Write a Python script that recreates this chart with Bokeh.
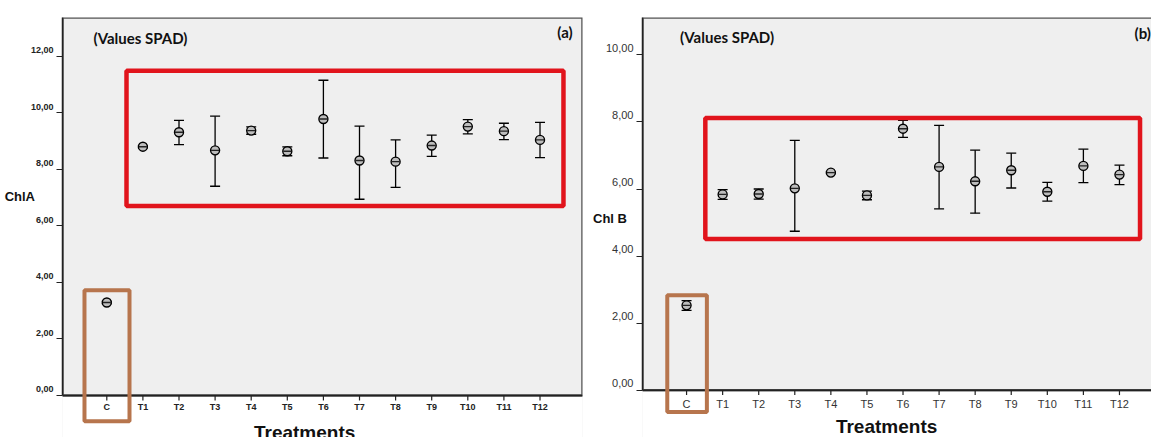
from bokeh.plotting import figure
from bokeh.models import (Range1d, FixedTicker, Whisker, TeeHead, BoxAnnotation,
                          Label, ColumnDataSource)
from bokeh.core.properties import value
from bokeh.layouts import row
from bokeh.embed import file_html
from bokeh.resources import INLINE

# ---------------- data ----------------
categories = ["C", "T1", "T2", "T3", "T4", "T5", "T6", "T7", "T8", "T9", "T10", "T11", "T12"]

chla_mean  = [3.29, 8.80, 9.31, 8.67, 9.37, 8.64, 9.78, 8.31, 8.27, 8.84, 9.51, 9.35, 9.04]
chla_upper = [3.33, 8.84, 9.73, 9.88, 9.50, 8.79, 11.15, 9.53, 9.04, 9.21, 9.76, 9.63, 9.66]
chla_lower = [3.25, 8.76, 8.87, 7.40, 9.24, 8.48, 8.40, 6.94, 7.36, 8.46, 9.25, 9.05, 8.41]

chlb_mean  = [2.53, 5.84, 5.85, 6.02, 6.49, 5.81, 7.80, 6.66, 6.23, 6.56, 5.92, 6.69, 6.43]
chlb_upper = [2.67, 5.98, 6.00, 7.45, 6.52, 5.94, 8.05, 7.90, 7.16, 7.07, 6.20, 7.19, 6.71]
chlb_lower = [2.38, 5.69, 5.70, 4.74, 6.46, 5.68, 7.54, 5.41, 5.28, 6.03, 5.64, 6.19, 6.13]

chla_ticks = [0, 2, 4, 6, 8, 10, 12]
chlb_ticks = [0, 2, 4, 6, 8, 10]

RED = "#e1141c"
BROWN = "#b7754d"
BG = "#efefef"
H = 437


def panel(mean, upper, lower, yticks, width, borders, xr, yr, tick_size, tick_style,
          tick_color, xlab_offset, ylab, ylab_standoff, ylab_lines, ylab_lh, right_line):
    xs = list(range(len(categories)))
    src = ColumnDataSource(dict(x=xs, mean=mean, upper=upper, lower=lower,
                                zero=[0] * len(xs), label=categories))
    bl, br, bt = borders
    p = figure(width=width, height=H, output_backend="svg", toolbar_location=None,
               x_range=Range1d(*xr), y_range=Range1d(*yr), x_axis_location=None,
               min_border_left=bl, min_border_right=br, min_border_top=bt, min_border_bottom=0)
    p.background_fill_color = BG
    p.border_fill_color = "white"
    p.outline_line_color = None
    p.grid.visible = False
    ppu_y = (H - bt) / (yr[1] - yr[0])

    # white area under the category axis
    p.add_layout(BoxAnnotation(top=0, fill_color="white", fill_alpha=1, line_alpha=0,
                               level="underlay"))
    # frame top / right edge
    p.add_layout(BoxAnnotation(bottom=0, right=(None if right_line else xr[1] + 1),
                               fill_alpha=0, line_color="#555555", line_alpha=1,
                               line_width=2.5, level="underlay"))

    # y axis
    ax = p.yaxis[0]
    ax.ticker = FixedTicker(ticks=yticks, minor_ticks=[])
    ax.major_label_overrides = {t: f"{t},00\n" for t in yticks}
    ax.bounds = (0, yr[1])
    ax.axis_line_color = "#222222"
    ax.axis_line_width = 1.5
    ax.major_tick_line_color = "#222222"
    ax.major_tick_line_width = 1.2
    ax.major_tick_out = 6
    ax.major_tick_in = 0
    ax.minor_tick_out = 0
    ax.major_label_text_font = "Liberation Sans"
    ax.major_label_text_font_size = tick_size
    ax.major_label_text_font_style = tick_style
    ax.major_label_text_color = tick_color
    ax.major_label_standoff = 3
    ax.axis_label = ylab + "\n" * ylab_lines
    ax.axis_label_orientation = "horizontal"
    ax.axis_label_standoff = ylab_standoff
    ax.axis_label_text_font = "Liberation Sans"
    ax.axis_label_text_font_style = "bold"
    ax.axis_label_text_font_size = "13px"
    ax.axis_label_text_line_height = ylab_lh
    ax.axis_label_text_color = "#111111"

    # category axis at y = 0
    p.segment(x0=xr[0], y0=0, x1=xr[1], y1=0, line_color="#222222", line_width=1.5)
    p.segment(x0="x", y0="zero", x1="x", y1=-5 / ppu_y, source=src,
              line_color="#222222", line_width=1.2)
    p.text(x="x", y="zero", text="label", source=src, y_offset=xlab_offset,
           text_align="center", text_baseline="top", text_font=value("Liberation Sans"),
           text_font_size=tick_size, text_font_style=tick_style, text_color=tick_color)

    whisk = Whisker(source=src, base="x", upper="upper", lower="lower",
                    line_color="black", line_width=1.3,
                    upper_head=TeeHead(size=10, line_color="black", line_width=1.3),
                    lower_head=TeeHead(size=10, line_color="black", line_width=1.3))
    p.add_layout(whisk)
    p.scatter("x", "mean", source=src, marker="circle", size=9,
              fill_color="#bdbdbd", line_color="black", line_width=1.4)
    p.scatter("x", "mean", source=src, marker="dash", size=8,
              line_color="#222222", line_width=1.4)
    return p


def txt(p, x, y, s, font, size, align="left", baseline="middle"):
    p.add_layout(Label(x=x, y=y, text=s, text_font=font, text_font_style="bold",
                       text_font_size=size, text_align=align, text_baseline=baseline,
                       text_color="#111111"))


# ---------------- left panel (a) ----------------
pa = panel(chla_mean, chla_upper, chla_lower, chla_ticks, 590, (62, 8, 17),
           (-1.227, 13.177), (-1.487, 13.37), "9px", "bold", "#222222", 7,
           "ChlA", -7, 4, 1.05, True)
pa.add_layout(BoxAnnotation(left=0.546, right=12.65, bottom=6.70, top=11.49,
                            fill_alpha=0, line_color=RED, line_alpha=1, line_width=4.5))
pa.add_layout(BoxAnnotation(left=-0.618, right=0.629, bottom=-0.909, top=3.725,
                            fill_alpha=0, line_color=BROWN, line_alpha=1, line_width=4))
txt(pa, -0.37, 12.64, "(Values SPAD)", "Lato", "15px")
txt(pa, 12.48, 12.85, "(a)", "Lato", "15px")
txt(pa, 5.48, -1.32, "Treatments", "Liberation Sans", "19px", "center", "alphabetic")

# ---------------- right panel (b) ----------------
pb = panel(chlb_mean, chlb_upper, chlb_lower, chlb_ticks, 561, (47, 0, 14),
           (-1.2215, 12.888), (-1.413, 11.117), "11px", "normal", "#333333", 8,
           "Chl B", -24, 1, 1.2, False)
pb.add_layout(BoxAnnotation(left=0.52, right=12.57, bottom=4.51, top=8.12,
                            fill_alpha=0, line_color=RED, line_alpha=1, line_width=4.5))
pb.add_layout(BoxAnnotation(left=-0.535, right=0.563, bottom=-0.65, top=2.83,
                            fill_alpha=0, line_color=BROWN, line_alpha=1, line_width=4))
txt(pb, -0.18, 10.55, "(Values SPAD)", "Lato", "15px")
txt(pb, 12.42, 10.64, "(b)", "Lato", "15px")
txt(pb, 5.545, -1.07, "Treatments", "Liberation Sans", "19px", "center", "alphabetic")

layout = row(pa, pb)
open("out.html", "w").write(file_html(layout, INLINE))
